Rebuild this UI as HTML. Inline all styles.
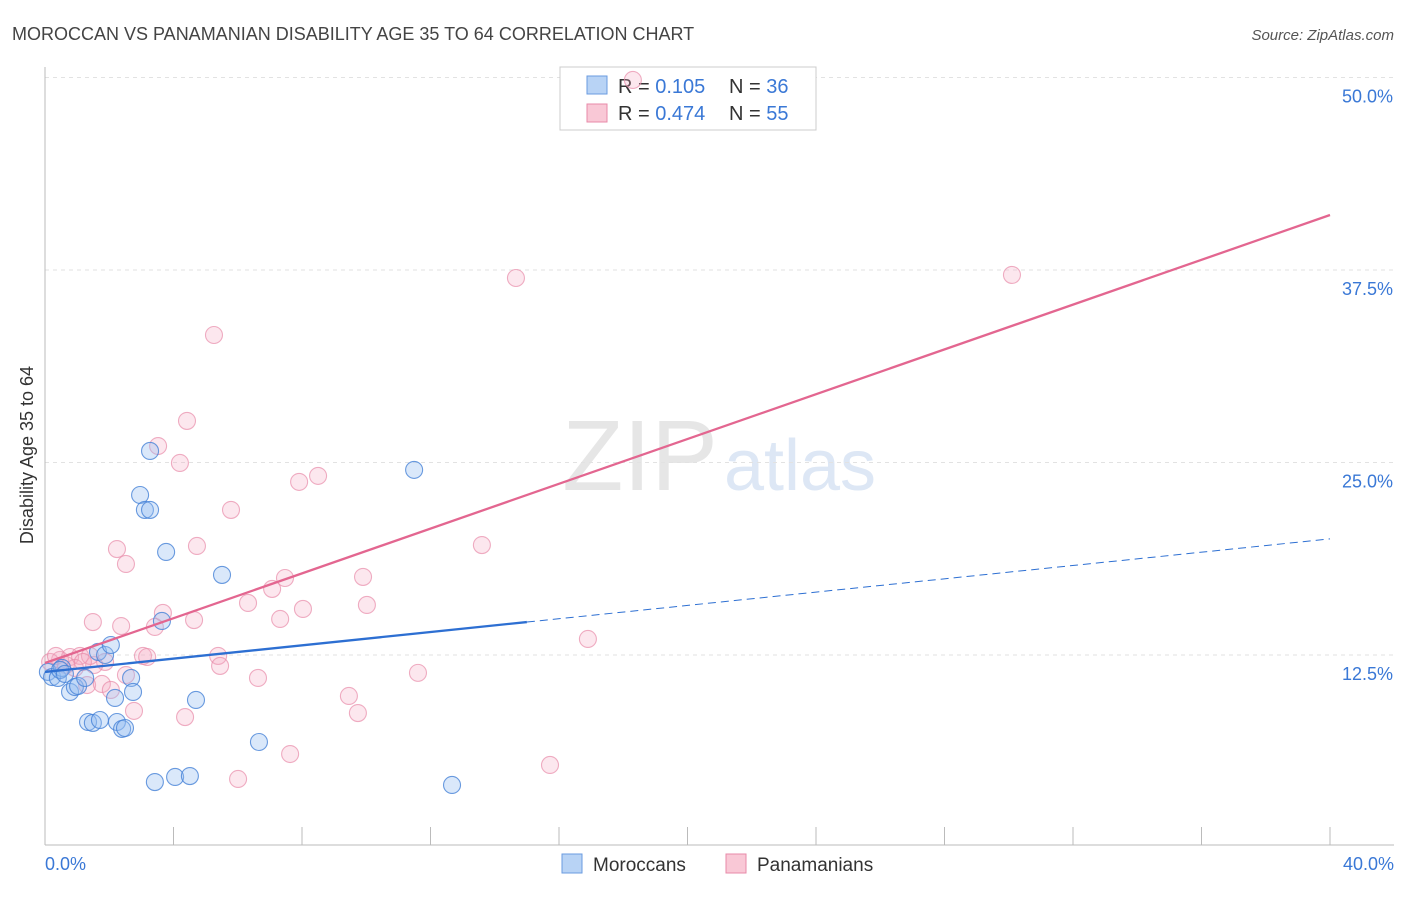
<!DOCTYPE html>
<html><head><meta charset="utf-8"><style>
body{margin:0;background:#fff;font-family:"Liberation Sans",sans-serif;}
svg text{font-family:"Liberation Sans",sans-serif;}
</style></head><body>
<svg id="chart" width="1406" height="892">
<text x="12" y="40" font-size="18" fill="#444">MOROCCAN VS PANAMANIAN DISABILITY AGE 35 TO 64 CORRELATION CHART</text>
<text x="1394" y="40" font-size="15" fill="#555" text-anchor="end" font-style="italic">Source: ZipAtlas.com</text>
<text x="0" y="0" font-size="18" fill="#333" text-anchor="middle" transform="translate(33,455) rotate(-90)">Disability Age 35 to 64</text>
<text x="640" y="490" font-size="100" fill="#e6e6e6" text-anchor="middle" font-family="Liberation Serif">ZIP</text>
<text x="800" y="490" font-size="72" fill="#dde7f5" text-anchor="middle">atlas</text>
<g id="grid"></g><g id="axes"></g>
<g>
<rect x="560" y="67" width="256" height="63" fill="#fff" stroke="#ccc"/>
<rect x="587" y="76" width="20" height="18" fill="#b8d3f5" stroke="#6a9be0"/>
<rect x="587" y="104" width="20" height="18" fill="#f9c8d6" stroke="#e88aa8"/>
<text x="618" y="93" font-size="20" fill="#333">R = <tspan fill="#3a78d6">0.105</tspan></text>
<text x="729" y="93" font-size="20" fill="#333">N = <tspan fill="#3a78d6">36</tspan></text>
<text x="618" y="120" font-size="20" fill="#333">R = <tspan fill="#3a78d6">0.474</tspan></text>
<text x="729" y="120" font-size="20" fill="#333">N = <tspan fill="#3a78d6">55</tspan></text>
</g>
<g id="pts"></g><g id="lines"></g>
<g>
<rect x="562" y="854" width="20" height="19" fill="#b8d3f5" stroke="#6a9be0"/>
<text x="593" y="871" font-size="19" fill="#333">Moroccans</text>
<rect x="726" y="854" width="20" height="19" fill="#f9c8d6" stroke="#e88aa8"/>
<text x="757" y="871" font-size="19" fill="#333">Panamanians</text>
</g>
</svg>
<script>
const yTicks=[12.5,25,37.5,50];
const yTickLabels=["12.5%","25.0%","37.5%","50.0%"];
const xTickLabels=["0.0%","40.0%"];
const moroccanX=[0.09,0.22,0.40,0.53,0.78,0.93,1.03,1.25,1.34,1.49,1.71,1.65,1.87,2.05,2.18,2.24,2.40,2.49,2.68,2.74,2.96,3.11,3.27,3.27,3.64,3.77,3.42,4.05,4.51,4.70,5.51,6.66,11.49,12.67,0.47,0.62];
const moroccanY=[11.40,11.07,11.01,11.66,10.10,10.42,10.49,11.01,8.15,8.09,8.28,12.70,12.50,13.15,9.71,8.15,7.70,7.76,11.01,10.10,22.89,21.92,21.92,25.75,14.71,19.19,4.25,4.58,4.64,9.58,17.70,6.85,24.52,4.06,11.53,11.27];
const panamanianX=[18.30,14.66,30.10,5.26,4.42,3.52,4.20,7.91,8.50,5.79,13.60,2.24,4.73,2.52,7.47,9.90,7.07,6.32,10.02,8.03,3.67,7.32,4.64,3.42,1.49,2.37,16.90,5.39,3.05,3.18,5.45,6.63,11.61,1.87,2.52,1.53,1.31,1.77,2.05,9.46,2.77,9.74,4.36,7.63,6.01,15.72,0.47,0.78,1.09,0.65,0.16,0.93,1.40,0.34,1.18];
const panamanianY=[49.84,36.98,37.18,33.28,27.70,26.07,24.97,23.74,24.13,21.92,19.64,19.38,19.58,18.41,17.50,17.57,16.79,15.88,15.75,15.49,15.23,14.84,14.77,14.32,14.64,14.38,13.54,12.44,12.44,12.37,11.79,11.01,11.34,12.05,11.20,11.85,10.55,10.62,10.23,9.84,8.87,8.73,8.47,6.07,4.45,5.36,12.18,12.37,12.44,11.85,12.05,11.66,12.44,12.44,12.05];
const moroccanTrend=[11.40,14.64,20.04];
const moroccanTrendX=[0,15,40];
const panamanianTrend=[11.98,41.07];
const panamanianTrendX=[0,40];
const X=v=>45+v/40*1285;
const Y=v=>847.5-v/12.5*192.5;
const NS="http://www.w3.org/2000/svg";
function mk(t,a,p){const e=document.createElementNS(NS,t);for(const k in a)e.setAttribute(k,a[k]);p.appendChild(e);return e;}
const grid=document.getElementById('grid'),axes=document.getElementById('axes'),pts=document.getElementById('pts'),lines=document.getElementById('lines');
yTicks.forEach((t,i)=>{
 const l=mk('line',{x1:45,x2:1394,y1:Y(t),y2:Y(t),stroke:'#e2e2e2','stroke-dasharray':'4,4'},grid);
 
 
 const tx=mk('text',{x:1393,y:Y(t)+25,'font-size':18,fill:'#3a78d6','text-anchor':'end'},axes);
 tx.textContent=yTickLabels[i];
 
 
});
const ax=mk('line',{x1:45,x2:1394,y1:845,y2:845,stroke:'#bbb'},axes);


const ay=mk('line',{x1:45,x2:45,y1:67,y2:845,stroke:'#bbb'},axes);


for(let i=1;i<=10;i++){const t=mk('line',{x1:X(i*4),x2:X(i*4),y1:827,y2:845,stroke:'#bbb'},axes);
 
 }
[[0,'start',45],[40,'end',1394]].forEach((d,i)=>{const t=mk('text',{x:d[2],y:870,'font-size':18,fill:'#3a78d6','text-anchor':d[1]},axes);t.textContent=xTickLabels[i];
 
 });
panamanianX.forEach((x,i)=>{const c=mk('circle',{cx:X(x),cy:Y(panamanianY[i]),r:8.5,fill:'rgba(246,170,195,0.28)',stroke:'rgba(232,140,170,0.7)','stroke-width':1.1},pts);
 
 });
moroccanX.forEach((x,i)=>{const c=mk('circle',{cx:X(x),cy:Y(moroccanY[i]),r:8.5,fill:'rgba(150,190,240,0.35)',stroke:'rgba(70,130,215,0.8)','stroke-width':1.1},pts);
 
 });
const pl=mk('line',{x1:X(panamanianTrendX[0]),y1:Y(panamanianTrend[0]),x2:X(panamanianTrendX[1]),y2:Y(panamanianTrend[1]),stroke:'#e36690','stroke-width':2.3},lines);


const bl=mk('line',{x1:X(moroccanTrendX[0]),y1:Y(moroccanTrend[0]),x2:X(moroccanTrendX[1]),y2:Y(moroccanTrend[1]),stroke:'#2d6fd2','stroke-width':2.3},lines);


const bd=mk('line',{x1:X(moroccanTrendX[1]),y1:Y(moroccanTrend[1]),x2:X(moroccanTrendX[2]),y2:Y(moroccanTrend[2]),stroke:'#2d6fd2','stroke-width':1,'stroke-dasharray':'8,5'},lines);


</script>
</body></html>
